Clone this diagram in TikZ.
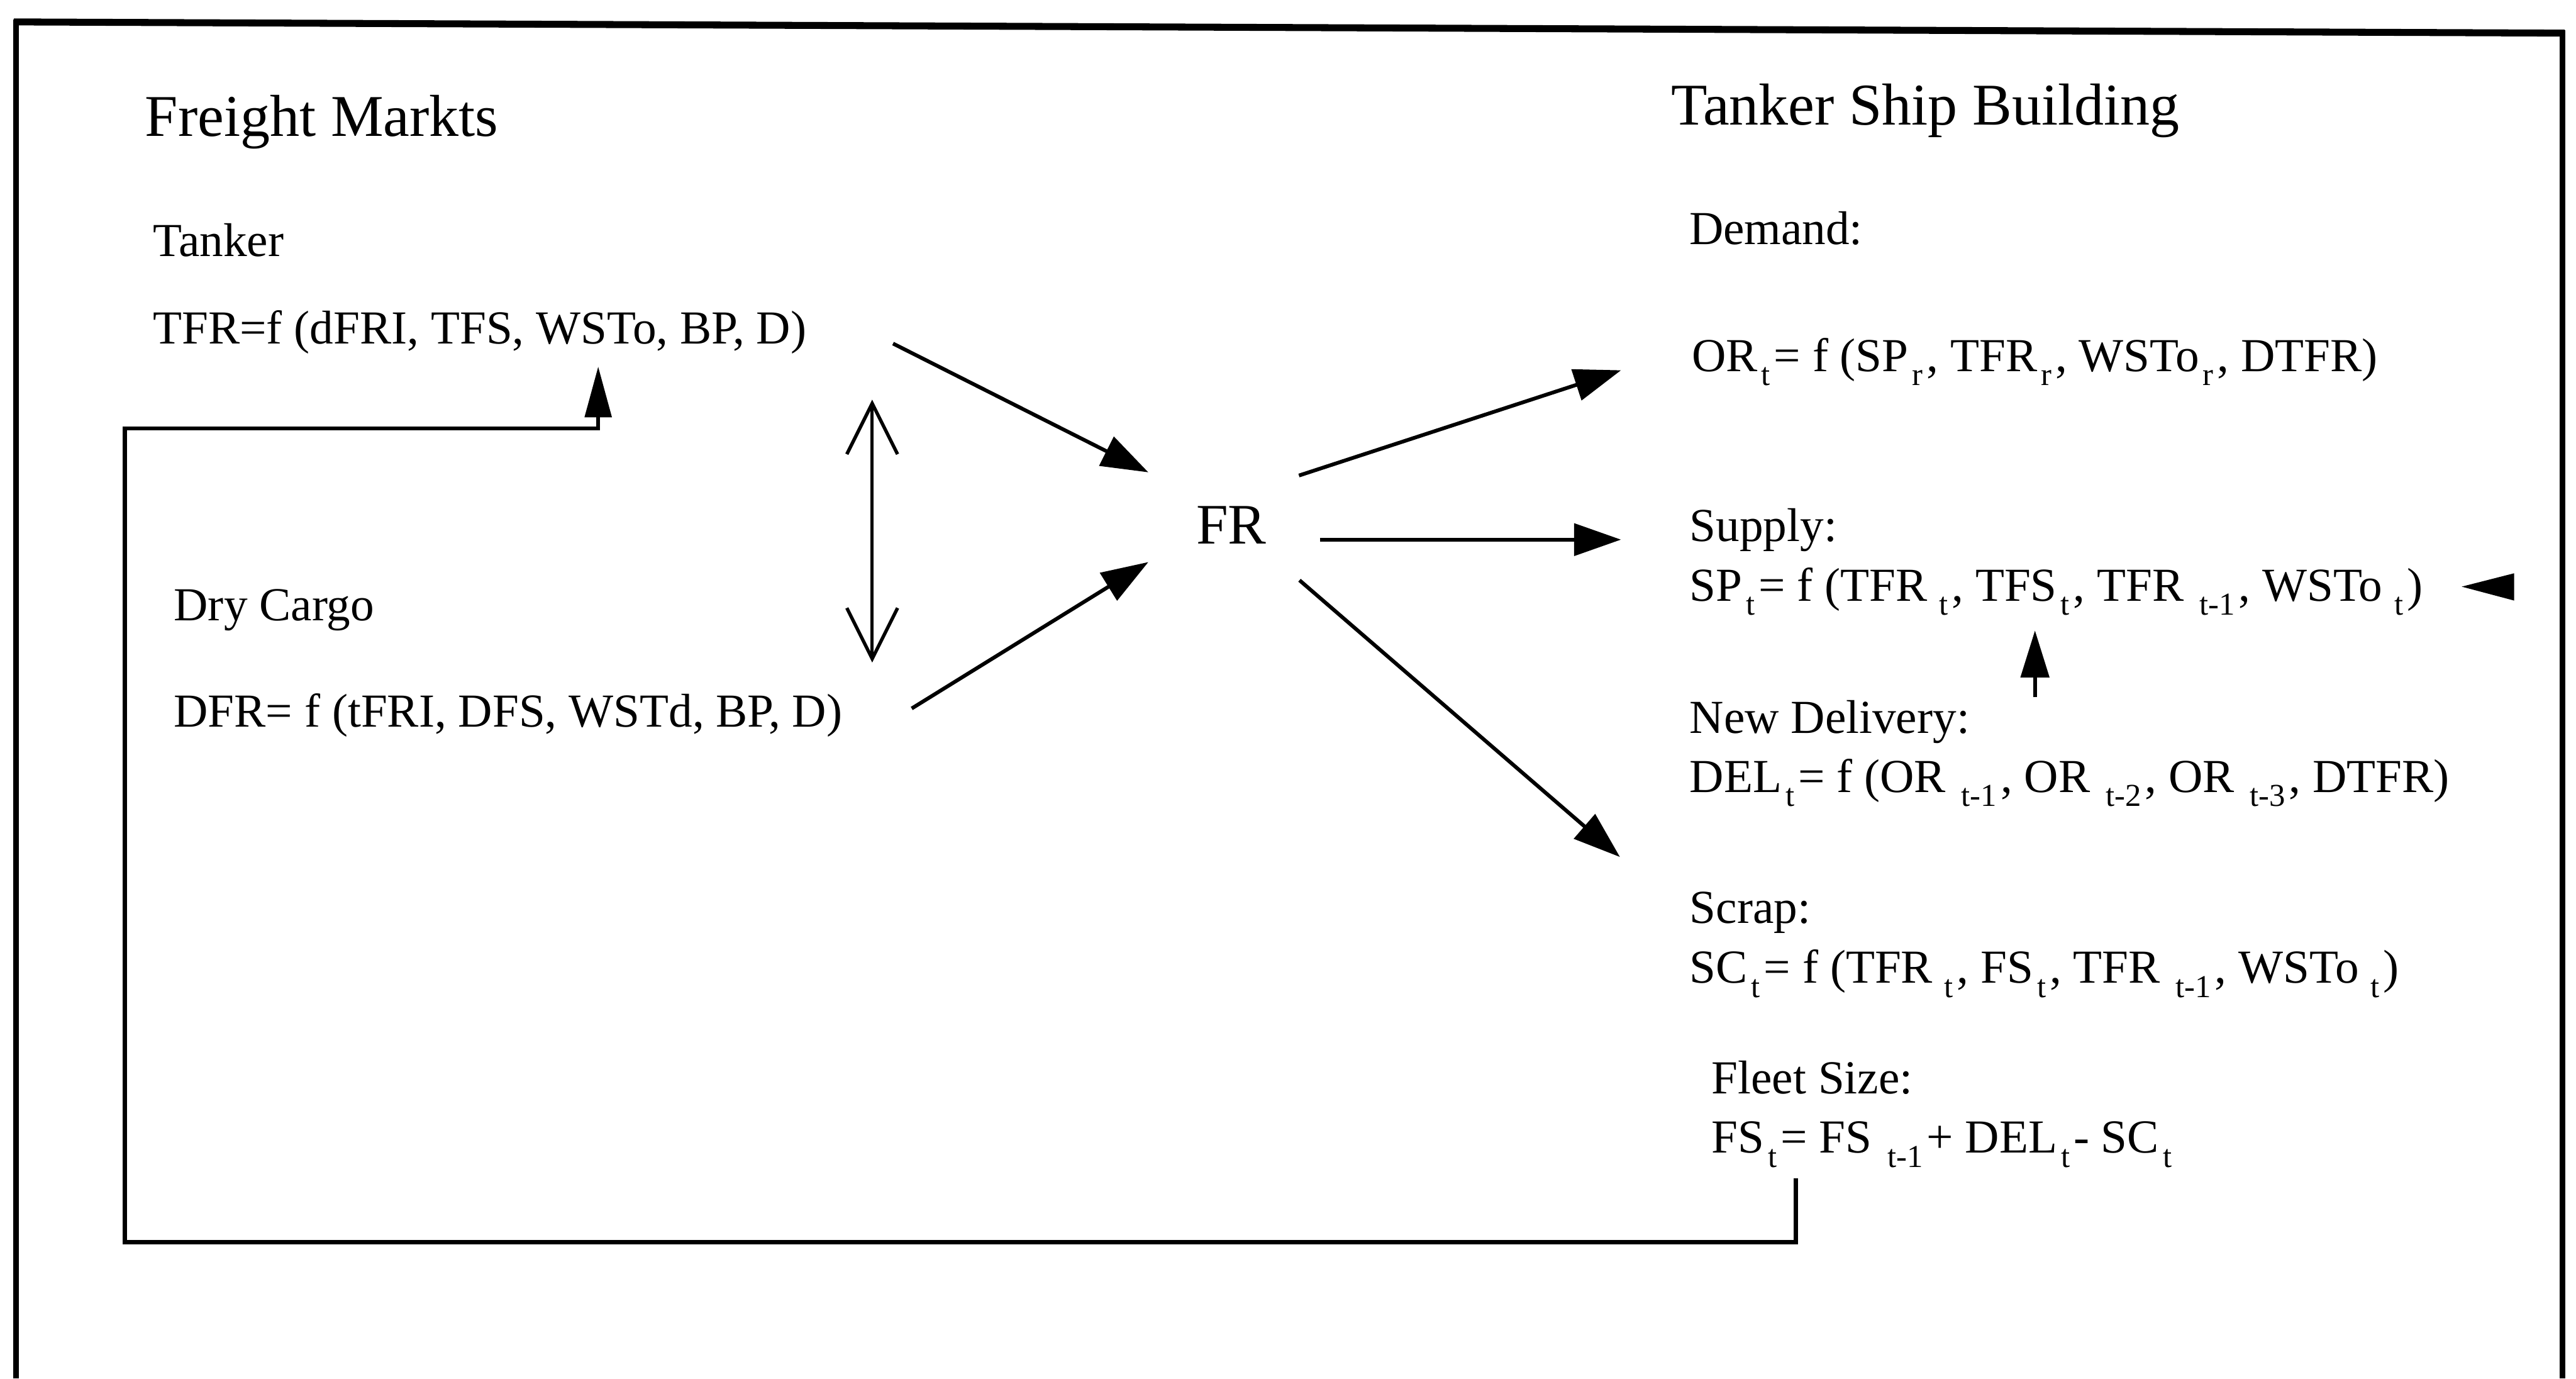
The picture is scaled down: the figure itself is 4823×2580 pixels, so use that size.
\documentclass[tikz,border=0pt]{standalone}
\usepackage{fontspec}
\setmainfont{Liberation Serif}
\usetikzlibrary{arrows.meta}
\newcommand{\sbs}[1]{\hspace{2pt}\raisebox{-7.5pt}{\fontsize{17}{17}\selectfont #1}\hspace{2pt}}
\begin{document}
\begin{tikzpicture}[x=0.01cm,y=-0.01cm,
  txt/.style={anchor=base west,inner sep=0pt,font=\fontsize{25.2}{30}\selectfont},
  head/.style={anchor=base west,inner sep=0pt,font=\fontsize{31.5}{36}\selectfont},
  bigtxt/.style={anchor=base west,inner sep=0pt,font=\fontsize{30.5}{36}\selectfont},
  arr/.style={line width=2pt,-{Triangle[length=25pt,width=17pt]}},
  uparr/.style={line width=2pt,-{Triangle[length=25pt,width=15pt]}},
  dblarr/.style={line width=1.6pt,{Straight Barb[length=27pt,width=27pt,line width=1.8pt]}-{Straight Barb[length=27pt,width=27pt,line width=1.8pt]}},
  loopline/.style={line width=2.2pt},
  frame/.style={line width=3pt}]
\useasboundingbox (0,0) rectangle (4823,2580);

% frame (open at the bottom)
\draw[frame] (30,2580) -- (30,36);
\draw[frame] (4798,2580) -- (4798,56);
\draw[line width=3.7pt] (26,41) -- (4802,62);

% left side
\node[head] (fm) at (271,255) {Freight Markts};
\node[txt] (tk) at (286,480) {Tanker};
\node[txt] (tfr) at (286,643) {TFR=f (dFRI, TFS, WSTo, BP, D)};
\node[txt] (dc) at (325,1162) {Dry Cargo};
\node[txt] (dfr) at (325,1360) {DFR= f (tFRI, DFS, WSTd, BP, D)};

% centre
\node[bigtxt] (fr) at (2239,1018) {FR};

% right side
\node[head] (tsb) at (3128,234) {Tanker Ship Building};
\node[txt] (dem) at (3162,457) {Demand:};
\node[txt] (or) at (3167,695) {OR\sbs{t}= f (SP\sbs{r}, TFR\sbs{r}, WSTo\sbs{r}, DTFR)};
\node[txt] (sup) at (3163,1013) {Supply:};
\node[txt] (sp) at (3163,1125) {SP\sbs{t}= f (TFR\,\sbs{t}, TFS\sbs{t}, TFR \sbs{t-1}, WSTo\,\sbs{t})};
\node[txt] (nd) at (3163,1372) {New Delivery:};
\node[txt] (del) at (3163,1483) {DEL\sbs{t}= f (OR \sbs{t-1}, OR \sbs{t-2}, OR \sbs{t-3}, DTFR)};
\node[txt] (scr) at (3163,1728) {Scrap:};
\node[txt] (sc) at (3163,1840) {SC\sbs{t}= f (TFR\,\sbs{t}, FS\sbs{t}, TFR \sbs{t-1}, WSTo\,\sbs{t})};
\node[txt] (fsz) at (3204,2047) {Fleet Size:};
\node[txt] (fs) at (3204,2158) {FS\sbs{t}= FS \sbs{t-1}+ DEL\sbs{t}- SC\sbs{t}};

% connector end points
\coordinate (tfrout) at (1672,643);
\coordinate (dfrout) at (1707,1326);
\coordinate (frinA) at (2150,884);
\coordinate (frinB) at (2150,1052);
\coordinate (froutA) at (2432,890);
\coordinate (froutB) at (2471,1010);
\coordinate (froutC) at (2433,1086);
\coordinate (orin) at (3035,693);
\coordinate (supin) at (3035,1010);
\coordinate (scrin) at (3033,1604);
\coordinate (dblT) at (1633,748);
\coordinate (dblB) at (1633,1240);
\coordinate (ndup) at (3810,1305);
\coordinate (spbelow) at (3810,1180);
\coordinate (fsfoot) at (3362,2205);
\coordinate (tfrfoot) at (1120,686);

% arrows into and out of FR
\draw[arr] (tfrout) -- (frinA);
\draw[arr] (dfrout) -- (frinB);
\draw[arr] (froutA) -- (orin);
\draw[arr] (froutB) -- (supin);
\draw[arr] (froutC) -- (scrin);

% tanker <-> dry cargo
\draw[dblarr] (dblT) -- (dblB);

% new delivery -> supply
\draw[uparr] (ndup) -- (spbelow);

% arrowhead pointing at supply equation
\fill (4609,1098) -- (4707,1073) -- (4707,1124) -- cycle;

% feedback loop from fleet size to tanker freight rate
\draw[loopline,-{Triangle[length=27pt,width=14pt]}] (fsfoot) -- (3362,2325) -- (234,2325) -- (234,802) -- (1120,802) -- (tfrfoot);
\end{tikzpicture}
\end{document}
